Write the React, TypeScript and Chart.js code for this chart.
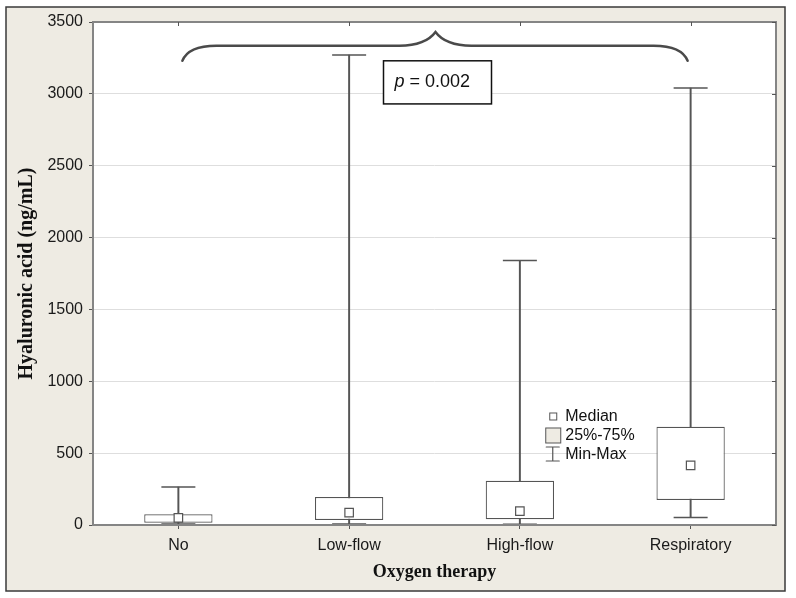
import React, { useEffect, useRef } from 'react';
import { Chart, registerables } from 'chart.js';

Chart.register(...registerables);

// ---- data ----
const categories = ['No', 'Low-flow', 'High-flow', 'Respiratory'];
const minValues = [7, 7, 5, 53];
const q1Values = [16, 35, 40, 174];
const medianValues = [50, 86, 97, 415];
const q3Values = [74, 195, 308, 684];
const maxValues = [264, 3270, 1840, 3040];
const yTicks = [0, 500, 1000, 1500, 2000, 2500, 3000, 3500];
const yTitle = 'Hyaluronic acid (ng/mL)';
const xTitle = 'Oxygen therapy';
const pSymbol = 'p';
const pRest = ' = 0.002';
const legendLabels = ['Median', '25%-75%', 'Min-Max'];
// brace spans first to last category, at these values
const braceLow = 3230;
const braceMid = 3335;
const bracePeak = 3430;
const pBoxTop = 3230;
const pBoxBottom = 2930;
const legendTopValue = 755;

const SANS = '"Liberation Sans", Arial, sans-serif';
const SERIF = '"Liberation Serif", "Times New Roman", serif';
const BEIGE = '#EEEBE3';
const LINE = '#555555';

const decorPlugin = {
  id: 'decor',
  beforeDraw(chart: any) {
    const { ctx, chartArea: a, width, height } = chart;
    ctx.save();
    ctx.fillStyle = '#ffffff';
    ctx.fillRect(0, 0, width, height);
    ctx.fillStyle = BEIGE;
    ctx.fillRect(6, 7, 779, 584);
    ctx.strokeStyle = '#3a3a3a';
    ctx.lineWidth = 1.5;
    ctx.strokeRect(6, 7, 779, 584);
    ctx.fillStyle = '#ffffff';
    ctx.fillRect(a.left, a.top, a.right - a.left, a.bottom - a.top);
    ctx.restore();
  },
  afterDatasetsDraw(chart: any) {
    const { ctx, chartArea: a } = chart;
    const xs = chart.scales.x;
    const ys = chart.scales.y;
    ctx.save();

    // plot border
    ctx.strokeStyle = '#858585';
    ctx.lineWidth = 2;
    ctx.strokeRect(a.left, a.top, a.right - a.left, a.bottom - a.top);

    // inner ticks top and right
    ctx.strokeStyle = LINE;
    ctx.lineWidth = 1;
    categories.forEach((_, i) => {
      const x = Math.round(xs.getPixelForValue(i)) + 0.5;
      ctx.beginPath();
      ctx.moveTo(x, a.top);
      ctx.lineTo(x, a.top + 4);
      ctx.stroke();
    });
    yTicks.forEach((v) => {
      const y = Math.round(ys.getPixelForValue(v)) + 0.5;
      ctx.beginPath();
      ctx.moveTo(a.right, y);
      ctx.lineTo(a.right - 4, y);
      ctx.stroke();
    });

    // brace
    const x0 = xs.getPixelForValue(0) + 4;
    const x1 = xs.getPixelForValue(categories.length - 1) - 3;
    const xm = (xs.getPixelForValue(1) + xs.getPixelForValue(2)) / 2 + 1;
    const yl = ys.getPixelForValue(braceLow);
    const yh = ys.getPixelForValue(braceMid);
    const yp = ys.getPixelForValue(bracePeak);
    ctx.strokeStyle = '#4a4a4a';
    ctx.lineWidth = 2.5;
    ctx.lineCap = 'round';
    ctx.beginPath();
    ctx.moveTo(x0, yl);
    ctx.quadraticCurveTo(x0 + 6, yh, x0 + 34, yh);
    ctx.lineTo(xm - 36, yh);
    ctx.quadraticCurveTo(xm - 10, yh, xm, yp);
    ctx.quadraticCurveTo(xm + 10, yh, xm + 36, yh);
    ctx.lineTo(x1 - 34, yh);
    ctx.quadraticCurveTo(x1 - 6, yh, x1, yl);
    ctx.stroke();

    // p-value box
    const bl = xm - 52;
    const br = xm + 56;
    const bt = ys.getPixelForValue(pBoxTop);
    const bb = ys.getPixelForValue(pBoxBottom);
    ctx.fillStyle = '#ffffff';
    ctx.fillRect(bl, bt, br - bl, bb - bt);
    ctx.strokeStyle = '#111111';
    ctx.lineWidth = 1.5;
    ctx.strokeRect(bl, bt, br - bl, bb - bt);
    ctx.fillStyle = '#111111';
    ctx.textBaseline = 'middle';
    ctx.textAlign = 'left';
    const ty = (bt + bb) / 2;
    ctx.font = `italic 18px ${SANS}`;
    ctx.fillText(pSymbol, bl + 11, ty);
    const pw = ctx.measureText(pSymbol).width;
    ctx.font = `18px ${SANS}`;
    ctx.fillText(pRest, bl + 11 + pw, ty);

    // legend
    const ax = (xs.getPixelForValue(2) + xs.getPixelForValue(3)) / 2 - 60;
    const y0 = ys.getPixelForValue(legendTopValue);
    const y1 = y0 + 19;
    const y2 = y0 + 38.5;
    ctx.strokeStyle = LINE;
    ctx.lineWidth = 1;
    ctx.fillStyle = '#ffffff';
    ctx.fillRect(ax + 4.5, y0 - 3.5, 7, 7);
    ctx.strokeRect(ax + 4.5, y0 - 3.5, 7, 7);
    ctx.fillStyle = BEIGE;
    ctx.fillRect(ax + 0.5, y1 - 7.5, 15, 15);
    ctx.strokeRect(ax + 0.5, y1 - 7.5, 15, 15);
    ctx.lineWidth = 1.2;
    ctx.beginPath();
    ctx.moveTo(ax + 7.5, y2 - 8);
    ctx.lineTo(ax + 7.5, y2 + 6);
    ctx.moveTo(ax + 1, y2 - 8);
    ctx.lineTo(ax + 14, y2 - 8);
    ctx.moveTo(ax + 1, y2 + 6);
    ctx.lineTo(ax + 14, y2 + 6);
    ctx.stroke();
    ctx.fillStyle = '#111111';
    ctx.font = `16px ${SANS}`;
    ctx.fillText(legendLabels[0], ax + 20, y0);
    ctx.fillText(legendLabels[1], ax + 20, y1);
    ctx.fillText(legendLabels[2], ax + 20, y2);

    // axis titles
    ctx.fillStyle = '#111111';
    ctx.textAlign = 'center';
    ctx.font = `bold 18px ${SERIF}`;
    ctx.fillText(xTitle, (a.left + a.right) / 2, 572);
    ctx.translate(27, (a.top + a.bottom) / 2);
    ctx.rotate(-Math.PI / 2);
    ctx.font = `bold 20px ${SERIF}`;
    ctx.fillText(yTitle, 0, 0);

    ctx.restore();
  },
};

export default function App() {
  const ref = useRef<HTMLCanvasElement | null>(null);

  useEffect(() => {
    if (!ref.current) return;
    const chart = new Chart(ref.current, {
      type: 'bar',
      data: {
        labels: categories,
        datasets: [
          {
            type: 'line',
            label: 'median',
            data: medianValues,
            showLine: false,
            pointStyle: 'rect',
            pointRadius: 6,
            pointBackgroundColor: '#ffffff',
            pointBorderColor: LINE,
            pointBorderWidth: 1.2,
            order: 0,
          } as any,
          {
            type: 'line',
            label: 'max',
            data: maxValues,
            showLine: false,
            pointStyle: 'line',
            pointRadius: 17,
            pointBorderColor: LINE,
            pointBorderWidth: 1.5,
            order: 1,
          } as any,
          {
            type: 'line',
            label: 'min',
            data: minValues,
            showLine: false,
            pointStyle: 'line',
            pointRadius: 17,
            pointBorderColor: LINE,
            pointBorderWidth: 1.5,
            order: 1,
          } as any,
          {
            type: 'bar',
            label: 'box',
            data: q1Values.map((q, i) => [q, q3Values[i]]),
            backgroundColor: '#ffffff',
            borderColor: LINE,
            borderWidth: 1.2,
            borderSkipped: false,
            grouped: false,
            categoryPercentage: 1,
            barPercentage: 0.4,
            order: 2,
          } as any,
          {
            type: 'bar',
            label: 'whisker',
            data: minValues.map((m, i) => [m, maxValues[i]]),
            backgroundColor: LINE,
            borderWidth: 0,
            grouped: false,
            barThickness: 1.3,
            order: 3,
          } as any,
        ],
      },
      options: {
        animation: false,
        responsive: false,
        events: [],
        layout: { padding: { left: 0, top: 22, right: 20, bottom: 0 } },
        plugins: {
          legend: { display: false },
          tooltip: { enabled: false },
          title: { display: false },
        },
        scales: {
          x: {
            type: 'category',
            offset: true,
            border: { display: false },
            grid: {
              display: true,
              drawOnChartArea: false,
              offset: false,
              tickLength: 4,
              tickColor: LINE,
            },
            ticks: {
              color: '#1a1a1a',
              font: { family: SANS, size: 16 },
              padding: 7,
              maxRotation: 0,
              autoSkip: false,
            },
            afterFit: (s: any) => {
              s.height = 73;
            },
          },
          y: {
            type: 'linear',
            min: 0,
            max: 3500,
            border: { display: false },
            grid: {
              color: '#dedede',
              lineWidth: 1,
              tickLength: 4,
              tickColor: LINE,
            },
            ticks: {
              color: '#1a1a1a',
              font: { family: SANS, size: 16 },
              padding: 6,
              callback: (v: any) => String(v),
            },
            afterBuildTicks: (s: any) => {
              s.ticks = yTicks.map((v) => ({ value: v }));
            },
            afterFit: (s: any) => {
              s.width = 93;
            },
          },
        },
      } as any,
      plugins: [decorPlugin],
    });
    return () => chart.destroy();
  }, []);

  return (
    <div style={{ position: 'absolute', left: 0, top: 0, width: 796, height: 598 }}>
      <canvas ref={ref} width={796} height={598} style={{ width: 796, height: 598, display: 'block' }} />
    </div>
  );
}
